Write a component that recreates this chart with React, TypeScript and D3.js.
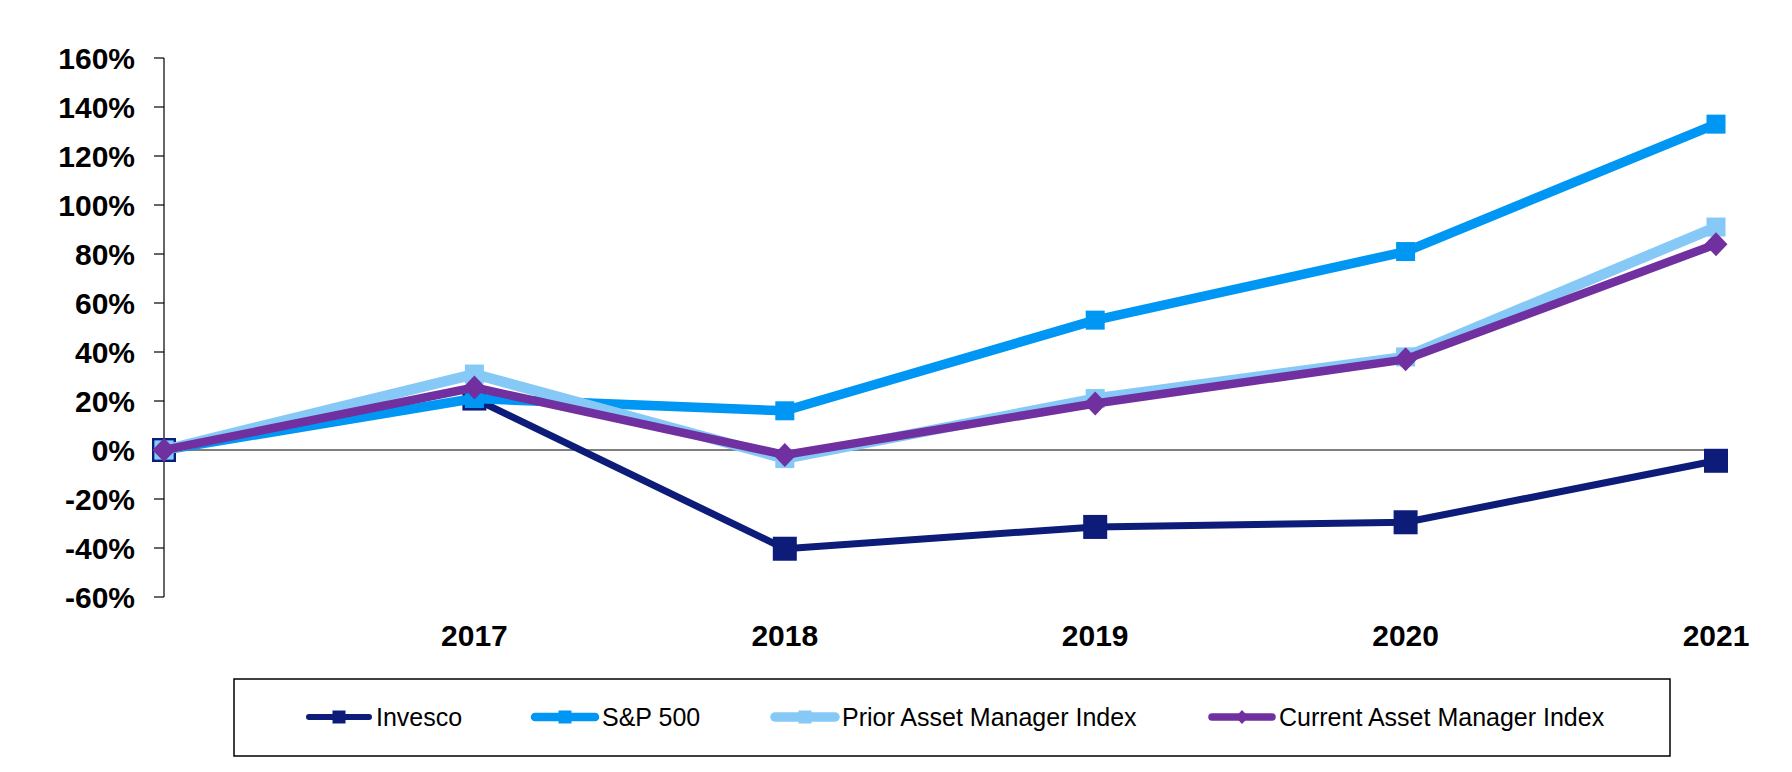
import React from "react";
import * as d3 from "d3";

const categories = ["", "2017", "2018", "2019", "2020", "2021"];
const invesco = [0, 21, -40.3, -31.4, -29.5, -4.4];
const sp500 = [0, 21, 16, 53, 81, 133];
const priorIndex = [0, 31, -3.5, 21, 38, 91];
const currentIndex = [0, 25.5, -2, 19, 37, 84];
const yTicks = [-60, -40, -20, 0, 20, 40, 60, 80, 100, 120, 140, 160];

type Series = {
  name: string;
  values: number[];
  color: string;
  width: number;
  marker: "square" | "diamond";
  size: number;
};

const series: Series[] = [
  { name: "Invesco", values: invesco, color: "#0C1C78", width: 7, marker: "square", size: 24 },
  { name: "S&P 500", values: sp500, color: "#0097F4", width: 9.5, marker: "square", size: 19 },
  { name: "Prior Asset Manager Index", values: priorIndex, color: "#86C9F7", width: 10.5, marker: "square", size: 19 },
  { name: "Current Asset Manager Index", values: currentIndex, color: "#7030A0", width: 8.5, marker: "diamond", size: 24 },
];

const legendX = [306, 532, 772, 1209];

const FONT = "'Liberation Sans', Arial, sans-serif";

function Marker({ kind, cx, cy, size, color }: { kind: string; cx: number; cy: number; size: number; color: string }) {
  if (kind === "square") {
    return <rect x={cx - size / 2} y={cy - size / 2} width={size} height={size} fill={color} />;
  }
  const h = size / 2;
  const w = size / 2 - 0.5;
  return <path d={`M${cx},${cy - h}L${cx + w},${cy}L${cx},${cy + h}L${cx - w},${cy}Z`} fill={color} />;
}

export default function App() {
  const W = 1792;
  const H = 772;
  const x = d3.scaleLinear().domain([0, categories.length - 1]).range([164, 1716]);
  const y = d3.scaleLinear().domain([-60, 160]).range([597, 58]);
  const line = d3
    .line<number>()
    .x((_, i) => x(i))
    .y((d) => y(d));

  return (
    <svg
      width={W}
      height={H}
      style={{ position: "absolute", left: 0, top: 0, background: "#fff" }}
      fontFamily={FONT}
    >
      <rect x={0} y={0} width={W} height={H} fill="#fff" />
      {/* y axis */}
      <line x1={x(0)} x2={x(0)} y1={y(160)} y2={y(-60)} stroke="#000" strokeWidth={1.2} />
      {yTicks.map((t) => (
        <g key={t}>
          <line x1={x(0) - 10} x2={x(0)} y1={y(t)} y2={y(t)} stroke="#000" strokeWidth={1.2} />
          <text
            x={135}
            y={y(t)}
            dy="0.36em"
            textAnchor="end"
            fontSize={30}
            fontWeight="bold"
            fill="#000"
          >
            {`${t}%`}
          </text>
        </g>
      ))}
      {/* zero line */}
      <line x1={x(0)} x2={x(categories.length - 1)} y1={y(0)} y2={y(0)} stroke="#000" strokeWidth={1.2} />
      {/* x labels */}
      {categories.map((c, i) => (
        <text key={i} x={x(i)} y={646} textAnchor="middle" fontSize={30} fontWeight="bold" fill="#000">
          {c}
        </text>
      ))}
      {/* series */}
      {series.map((s) => (
        <g key={s.name}>
          <path
            d={line(s.values) || ""}
            fill="none"
            stroke={s.color}
            strokeWidth={s.width}
            strokeLinejoin="round"
            strokeLinecap="round"
          />
          {s.values.map((v, i) => (
            <Marker key={i} kind={s.marker} cx={x(i)} cy={y(v)} size={s.size} color={s.color} />
          ))}
        </g>
      ))}
      {/* legend */}
      <rect x={234} y={679} width={1436} height={77} fill="#fff" stroke="#000" strokeWidth={1.5} />
      {series.map((s, i) => {
        const lx = legendX[i];
        const ly = 717;
        return (
          <g key={s.name}>
            <line
              x1={lx + 3}
              x2={lx + 63}
              y1={ly}
              y2={ly}
              stroke={s.color}
              strokeWidth={s.width - 1}
              strokeLinecap="round"
            />
            <Marker kind={s.marker} cx={lx + 33} cy={ly} size={s.marker === "diamond" ? 14 : 13} color={s.color} />
            <text x={lx + 70} y={ly} dy="0.36em" fontSize={25} fill="#000">
              {s.name}
            </text>
          </g>
        );
      })}
    </svg>
  );
}
